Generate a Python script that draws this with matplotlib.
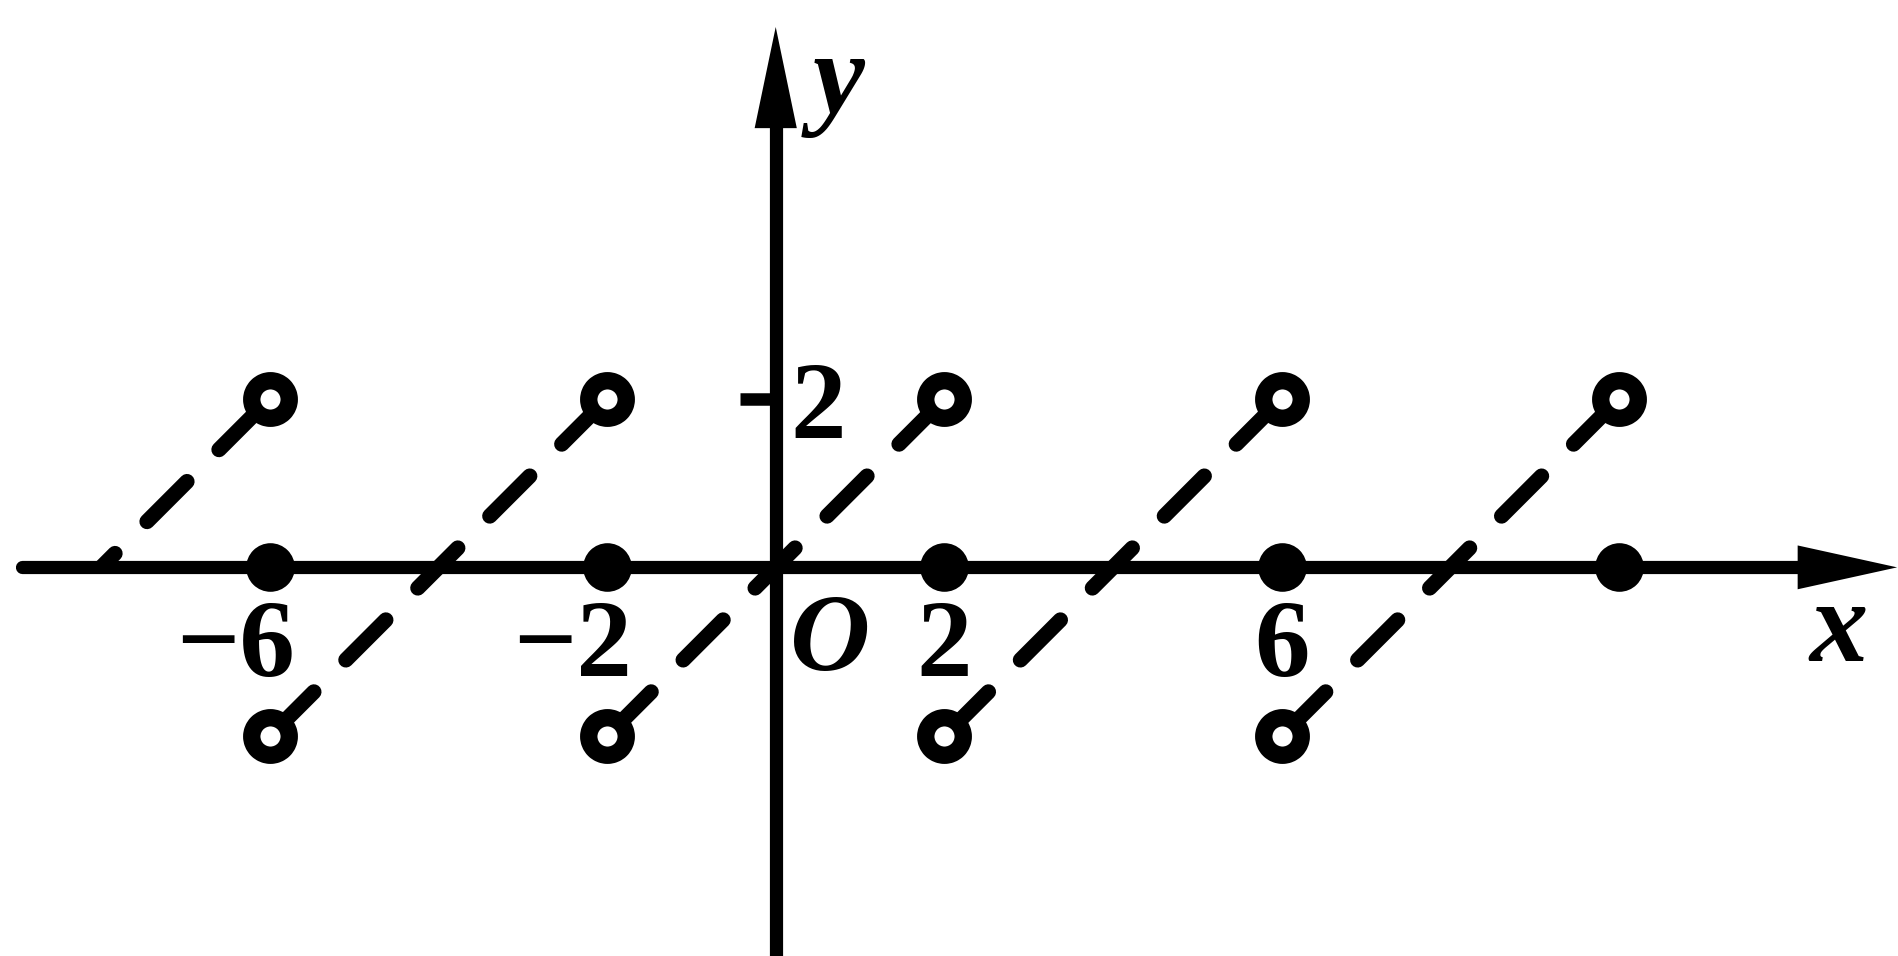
"""
Sawtooth with period 4: f(x) = x - 4k on (4k-2, 4k+2), f = 0 at the jumps
"""

import matplotlib.pyplot as plt
from matplotlib.patches import Rectangle, Polygon

#%%

# pieces of the graph (dashed lines), left end -> right end
seg_x0 = [-10, -6, -2, 2, 6]
seg_x1 = [-6, -2, 2, 6, 10]
seg_y0 = [-2, -2, -2, -2, -2]
seg_y1 = [2, 2, 2, 2, 2]

# values at the jumps (filled dots)
dot_x = [-6, -2, 2, 6, 10]
dot_y = [0, 0, 0, 0, 0]

# excluded end points (open circles)
hole_top_x = [-6, -2, 2, 6, 10]
hole_top_y = [2, 2, 2, 2, 2]
hole_bot_x = [-6, -2, 2, 6]
hole_bot_y = [-2, -2, -2, -2]

xtick_vals = [-6, -2, 2, 6]
ytick_vals = [2]

#%%

fig = plt.figure(figsize=(18.98, 9.56), dpi=100)
ax = fig.add_axes([0, 0, 1, 1])
ax.set_xlim(-9.2, 13.31)
ax.set_ylim(-4.61, 6.73)
ax.axis('off')

serif = ['Liberation Serif', 'DejaVu Serif']

# coordinate axes with arrow heads
ax.plot([-8.94, 12.3], [0, 0], color='k', lw=9.5, solid_capstyle='round', zorder=2)
ax.add_patch(Polygon([(12.12, 0.26), (13.3, 0), (12.12, -0.26)], closed=True,
                     color='k', lw=0, zorder=2))
ax.plot([0, 0], [-5, 5.4], color='k', lw=9.5, zorder=2)
ax.add_patch(Polygon([(-0.25, 5.21), (0, 6.41), (0.25, 5.21)], closed=True,
                     color='k', lw=0, zorder=2))

# dashed pieces
dash_style = (0, (4.08, 2.96, 3.7, 2.96, 3.7, 2.96, 3.7, 2.96, 10))
for x0, x1, y0, y1 in zip(seg_x0, seg_x1, seg_y0, seg_y1):
    line, = ax.plot([x0, x1], [y0, y1], color='k', lw=11, linestyle=dash_style,
                    dash_capstyle='round', zorder=3)
    if x0 < -8:
        # only the part above the x axis is shown on the left edge
        line.set_clip_path(Rectangle((-20, -0.05), 50, 20, transform=ax.transData))

ax.plot(dot_x, dot_y, 'o', ms=35, mfc='k', mec='k', mew=0, zorder=5)
ax.plot(hole_top_x, hole_top_y, 'o', ms=27, mfc='white', mec='k', mew=12.5, zorder=5)
ax.plot(hole_bot_x, hole_bot_y, 'o', ms=27, mfc='white', mec='k', mew=12.5, zorder=5)

# ticks and labels
for v in xtick_vals:
    if v < 0:
        ax.text(v + 0.3, -0.97, '\u2212' + str(abs(v)), ha='right', va='center',
                fontsize=80, family=serif, weight='bold')
    else:
        ax.text(v, -0.97, str(v), ha='center', va='center',
                fontsize=80, family=serif, weight='bold')

for v in ytick_vals:
    ax.plot([-0.42, 0], [v, v], color='k', lw=9, solid_capstyle='butt', zorder=2)
    ax.text(0.5, v - 0.15, str(v), ha='center', va='center',
            fontsize=80, family=serif, weight='bold')

ax.text(0.64, -0.9, 'O', ha='center', va='center', fontsize=80, family=serif,
        style='italic', weight='bold')
ax.text(12.6, -0.78, 'x', ha='center', va='center', fontsize=84, family=serif,
        style='italic', weight='bold')
ax.text(0.74, 5.72, 'y', ha='center', va='center', fontsize=84, family=serif,
        style='italic', weight='bold')

fig.savefig('out.png', dpi=100)
